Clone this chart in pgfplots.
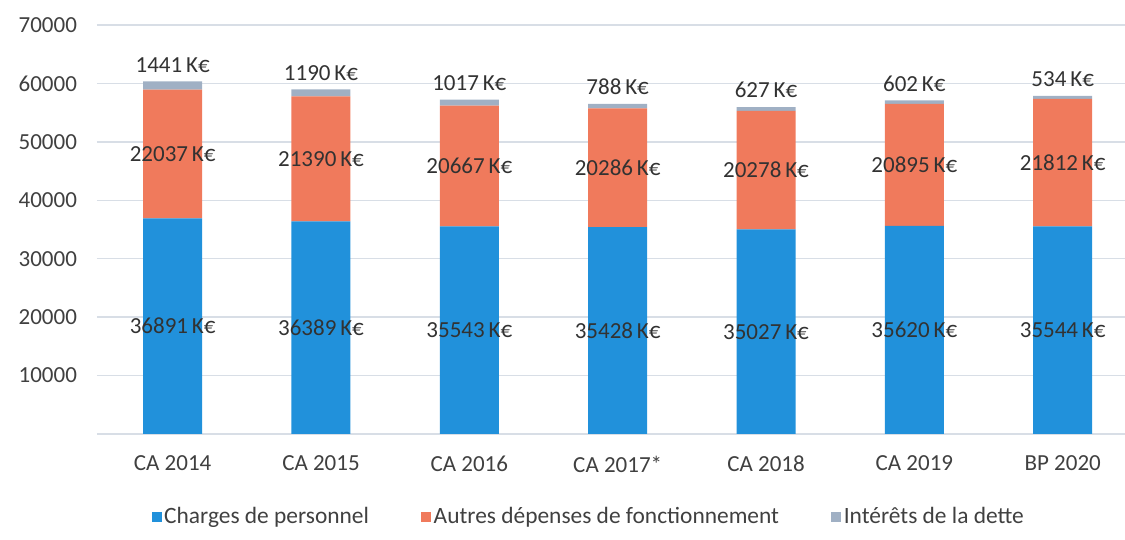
\documentclass[border=0pt]{standalone}
\usepackage{fontspec}
\setmainfont{Carlito}
\usepackage{pgfplots}
\usepackage{pgfplotstable}
\pgfplotsset{compat=1.18}
\definecolor{cblue}{RGB}{33,145,219}
\definecolor{corange}{RGB}{240,122,92}
\definecolor{cgray}{RGB}{160,176,196}
\definecolor{ctext}{RGB}{64,64,64}
\definecolor{clabel}{RGB}{50,50,50}
\definecolor{cgrid}{RGB}{216,222,230}
\newcommand{\ff}{\fontsize{11.5}{13.5}\selectfont}
\newcommand{\fl}{\fontsize{11.7}{13.5}\selectfont}
\pgfplotstableread{
x p a i
0 36891 22037 1441
1 36389 21390 1190
2 35543 20667 1017
3 35428 20286 788
4 35027 20278 627
5 35620 20895 602
6 35544 21812 534
}\data
\begin{document}
\begin{tikzpicture}
\useasboundingbox (-48.5pt,-53pt) rectangle (514pt,217pt);
\begin{axis}[
  at={(0,0)}, anchor=south west,
  scale only axis, width=514pt, height=204.5pt,
  xmin=-0.51, xmax=6.42, ymin=0, ymax=70000,
  ybar stacked, bar width=29.5pt,
  axis line style={draw=none},
  tick style={draw=none},
  scaled y ticks=false,
  ymajorgrids, grid style={cgrid, line width=0.7pt},
  ytick={0,10000,20000,30000,40000,50000,60000,70000},
  yticklabels={,10000,20000,30000,40000,50000,60000,70000},
  xtick={0,1,2,3,4,5,6},
  xticklabels={CA 2014,CA 2015,CA 2016,CA 2017*,CA 2018,CA 2019,BP 2020},
  yticklabel style={font=\ff, text=ctext, xshift=-6.5pt},
  xticklabel style={font=\ff, text=ctext, yshift=-7.5pt},
  legend style={at={(0.4786,-0.203)}, anchor=center, draw=none, fill=none,
    legend columns=-1, font=\fl, text=ctext, nodes={inner xsep=1.2pt},
    /tikz/every even column/.append style={column sep=25pt}},
  clip=false,
]
\addplot[fill=cblue, draw=none, legend image code/.code={\fill[cblue] (0pt,-2.5pt) rectangle (5pt,2.5pt);}] table[x=x,y=p]{\data};
\addlegendentry{Charges de personnel}
\addplot[fill=corange, draw=none, legend image code/.code={\fill[corange] (0pt,-2.5pt) rectangle (5pt,2.5pt);}] table[x=x,y=a]{\data};
\addlegendentry{Autres dépenses de fonctionnement}
\addplot[fill=cgray, draw=none, legend image code/.code={\fill[cgray] (0pt,-2.5pt) rectangle (5pt,2.5pt);}] table[x=x,y=i]{\data};
\addlegendentry{Intérêts de la dette}
\end{axis}
\begin{axis}[
  at={(0,0)}, anchor=south west,
  scale only axis, width=514pt, height=204.5pt,
  xmin=-0.51, xmax=6.42, ymin=0, ymax=70000,
  hide axis, clip=false,
]
\addplot[draw=none, mark=none, point meta=explicit symbolic,
  nodes near coords={\pgfplotspointmeta\,K€}, nodes near coords align={center},
  every node near coord/.append style={font=\ff, text=clabel}]
  table[x=x, y expr=\thisrow{p}/2, meta=p]{\data};
\addplot[draw=none, mark=none, point meta=explicit symbolic,
  nodes near coords={\pgfplotspointmeta\,K€}, nodes near coords align={center},
  every node near coord/.append style={font=\ff, text=clabel}]
  table[x=x, y expr=\thisrow{p}+\thisrow{a}/2, meta=a]{\data};
\addplot[draw=none, mark=none, point meta=explicit symbolic,
  nodes near coords={\pgfplotspointmeta\,K€}, nodes near coords align={vertical},
  every node near coord/.append style={font=\ff, text=clabel, yshift=1pt}]
  table[x=x, y expr=\thisrow{p}+\thisrow{a}+\thisrow{i}, meta=i]{\data};
\end{axis}
\end{tikzpicture}
\end{document}
